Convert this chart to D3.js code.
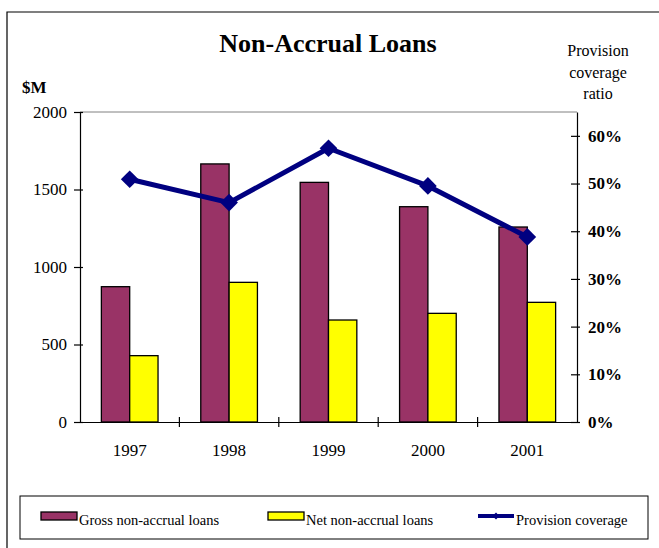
<!DOCTYPE html>
<html><head><meta charset="utf-8">
<script src="https://cdn.jsdelivr.net/npm/d3@7"></script>
<style>body{margin:0;background:#fff}svg{display:block}svg text{font-family:"Liberation Serif","Times New Roman",serif !important}</style>
</head><body>
<script>
const years = ["1997","1998","1999","2000","2001"];
const gross = [873, 1665, 1546, 1389, 1258];
const net = [428, 901, 658, 701, 772];
const coverage = [0.509, 0.460, 0.574, 0.495, 0.388];
const leftTicks = [0, 500, 1000, 1500, 2000];
const rightTicks = [0, 0.1, 0.2, 0.3, 0.4, 0.5, 0.6];

const W = 659, H = 548;
const svg = d3.select("body").append("svg").attr("width", W).attr("height", H);

// outer frame (left & top)
svg.append("path").attr("d", `M7,${H} V12 H${W}`).attr("fill","none").attr("stroke","#000").attr("stroke-width",1.2);

const L = 80, R = 577, T = 112, B = 422;
const x = d3.scaleBand().domain(years).range([L, R]);
const y = d3.scaleLinear().domain([0, 2000]).range([B, T]);
const y2 = d3.scaleLinear().domain([0, 0.65]).range([B, T]);

// plot top border
svg.append("line").attr("x1", L).attr("x2", R).attr("y1", T).attr("y2", T).attr("stroke", "#808080").attr("stroke-width", 1);

const bw = x.bandwidth() * 0.285;
const off = (x.bandwidth() - 2 * bw) / 2;
svg.append("g").selectAll("rect").data(years).join("rect")
  .attr("x", d => x(d) + off).attr("width", bw)
  .attr("y", (d, i) => y(gross[i])).attr("height", (d, i) => B - y(gross[i]))
  .attr("fill", "#993366").attr("stroke", "#000").attr("stroke-width", 1.3);
svg.append("g").selectAll("rect").data(years).join("rect")
  .attr("x", d => x(d) + off + bw).attr("width", bw)
  .attr("y", (d, i) => y(net[i])).attr("height", (d, i) => B - y(net[i]))
  .attr("fill", "#ffff00").attr("stroke", "#000").attr("stroke-width", 1.3);

function styleText(sel, bold) {
  sel.selectAll("text")
    .style("font-family", "'Liberation Serif', 'Times New Roman', serif")
    .style("font-size", "17px").style("font-weight", bold ? "bold" : "normal")
    .attr("fill", "#000");
}

// left axis
const la = svg.append("g").attr("transform", `translate(${L},0)`)
  .call(d3.axisLeft(y).tickValues(leftTicks).tickFormat(d3.format("d")).tickSize(0).tickPadding(13));
la.attr("font-family", null);
la.select(".domain").attr("stroke", "#000").attr("stroke-width", 1.2);
la.selectAll(".tick line").remove();
la.selectAll(".tick").append("line").attr("x1", -6).attr("x2", 3).attr("stroke", "#000").attr("stroke-width", 1.2);
styleText(la, false);

// right axis
const ra = svg.append("g").attr("transform", `translate(${R},0)`)
  .call(d3.axisRight(y2).tickValues(rightTicks).tickFormat(d3.format(".0%")).tickSize(0).tickPadding(11));
ra.attr("font-family", null);
ra.select(".domain").attr("stroke", "#000").attr("stroke-width", 1.2);
ra.selectAll(".tick line").remove();
ra.selectAll(".tick").append("line").attr("x1", -6).attr("x2", 3).attr("stroke", "#000").attr("stroke-width", 1.2);
styleText(ra, true);

// bottom axis
const xa = svg.append("g").attr("transform", `translate(0,${B})`)
  .call(d3.axisBottom(x).tickSize(0).tickPadding(22));
xa.attr("font-family", null);
xa.select(".domain").attr("stroke", "#000").attr("stroke-width", 1.2);
styleText(xa, false);
const bounds = years.map(d => x(d)).slice(1);
xa.selectAll(".sep").data(bounds).join("line").attr("class", "sep")
  .attr("x1", d => d).attr("x2", d => d).attr("y1", -5).attr("y2", 5)
  .attr("stroke", "#000").attr("stroke-width", 1.2);

// coverage line
const cx = d => x(d) + x.bandwidth() / 2;
svg.append("path").datum(years)
  .attr("d", d3.line().x(d => cx(d)).y((d, i) => y2(coverage[i])))
  .attr("fill", "none").attr("stroke", "#000080").attr("stroke-width", 5).attr("stroke-linejoin", "round");
const dia = d3.symbol().type(d3.symbolDiamond2).size(200);
svg.append("g").selectAll("path").data(years).join("path")
  .attr("transform", (d, i) => `translate(${cx(d)},${y2(coverage[i])})`)
  .attr("d", dia).attr("fill", "#000080");

// titles
svg.append("text").attr("x", 328).attr("y", 52).attr("text-anchor", "middle")
  .style("font-size", "26px").style("font-weight", "bold").text("Non-Accrual Loans");
svg.append("text").attr("x", 22).attr("y", 93).style("font-size", "17px").style("font-weight", "bold").text("$M");
const rl = svg.append("text").attr("text-anchor", "middle").style("font-size", "16px");
["Provision", "coverage", "ratio"].forEach((t, i) =>
  rl.append("tspan").attr("x", 598).attr("y", 56 + i * 21.5).text(t));

// legend
svg.append("rect").attr("x", 20).attr("y", 496).attr("width", 628).attr("height", 43)
  .attr("fill", "#fff").attr("stroke", "#000").attr("stroke-width", 1);
const leg = [
  {type: "bar", fill: "#993366", label: "Gross non-accrual loans", x: 41},
  {type: "bar", fill: "#ffff00", label: "Net non-accrual loans", x: 268},
  {type: "line", fill: "#000080", label: "Provision coverage", x: 478}
];
leg.forEach(l => {
  if (l.type === "bar") {
    svg.append("rect").attr("x", l.x).attr("y", 512).attr("width", 36).attr("height", 8)
      .attr("fill", l.fill).attr("stroke", "#000").attr("stroke-width", 1.3);
  } else {
    svg.append("line").attr("x1", l.x).attr("x2", l.x + 36).attr("y1", 516).attr("y2", 516)
      .attr("stroke", l.fill).attr("stroke-width", 4);
    svg.append("path").attr("transform", `translate(${l.x + 18},516)`)
      .attr("d", d3.symbol().type(d3.symbolDiamond2).size(30)).attr("fill", l.fill);
  }
  svg.append("text").attr("x", l.x + 38).attr("y", 525).style("font-size", "14.5px").text(l.label);
});
</script>
</body></html>
